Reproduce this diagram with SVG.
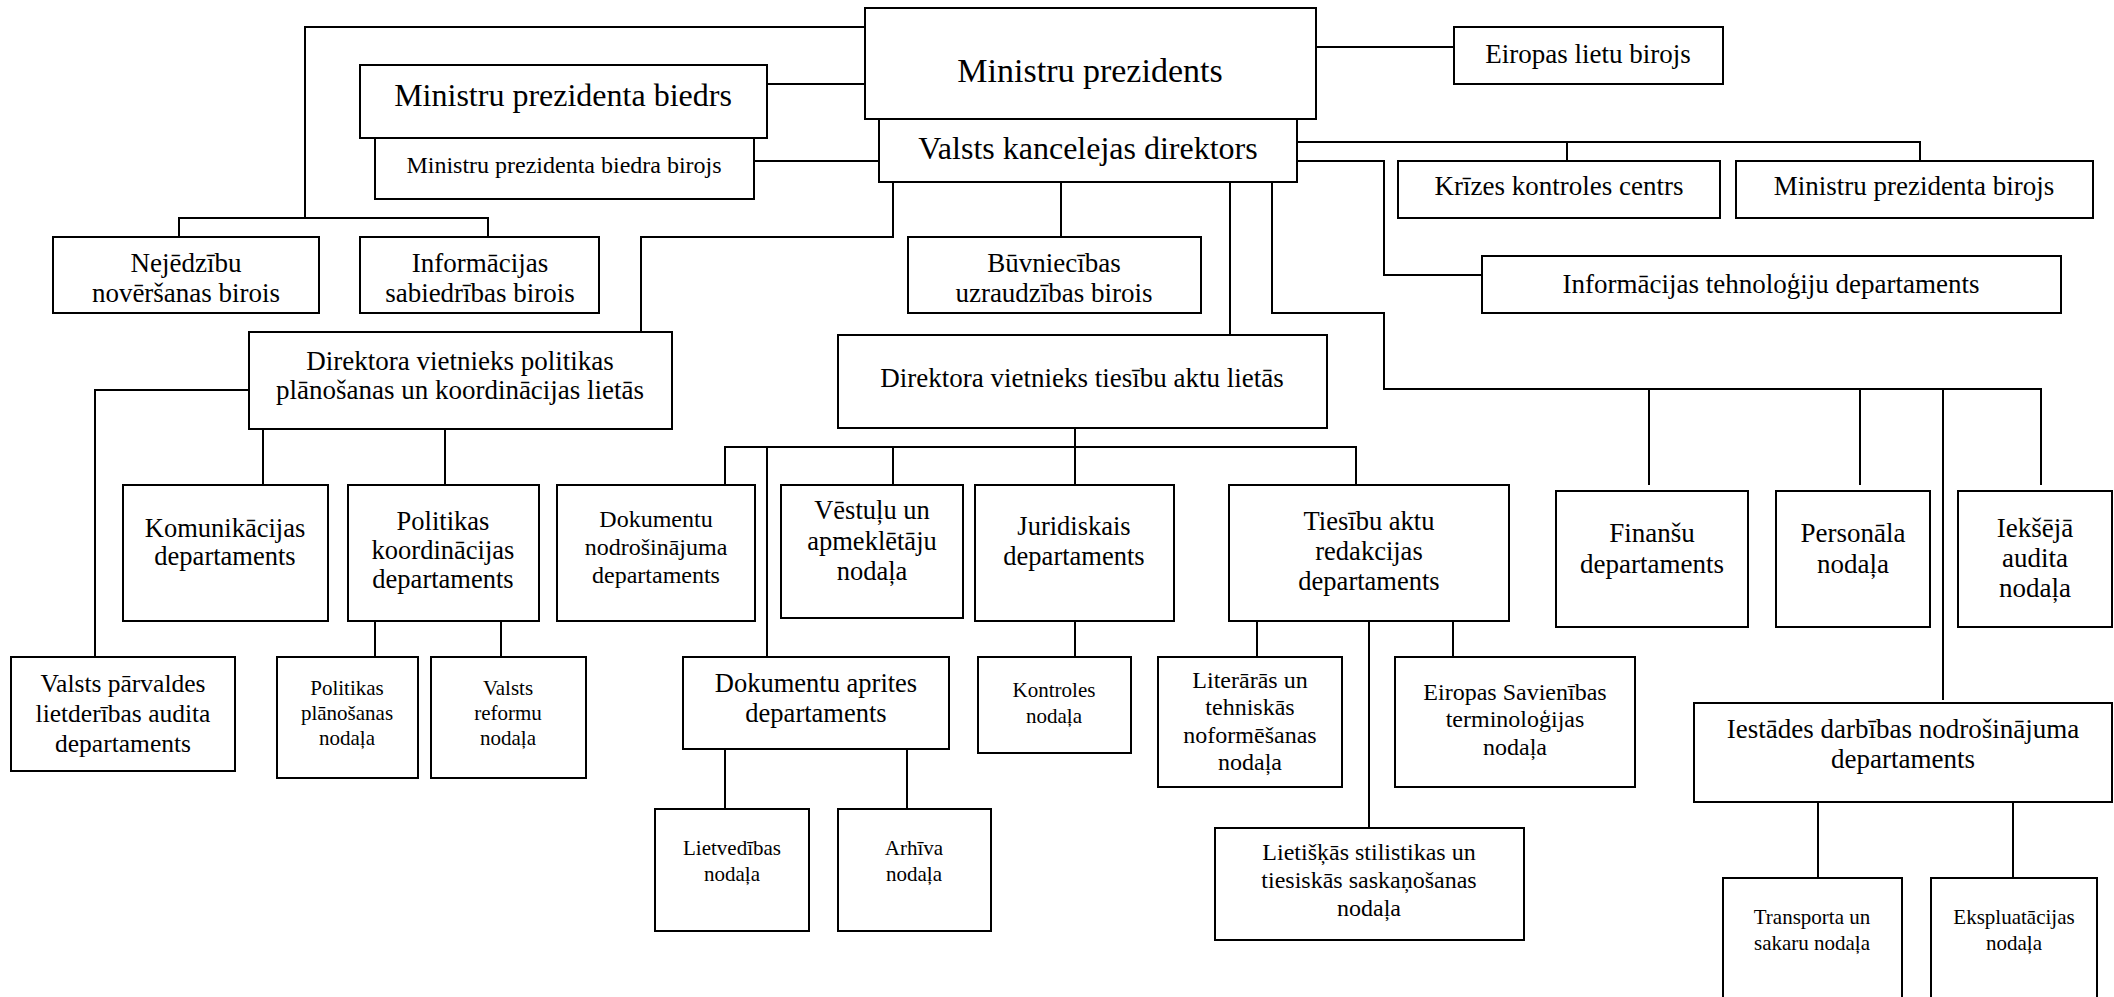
<svg xmlns="http://www.w3.org/2000/svg" width="2114" height="997" viewBox="0 0 2114 997">
<style>
.box{fill:#fff;stroke:#000;stroke-width:2}
.t{font-family:"Liberation Serif","Times New Roman",serif;text-anchor:middle;fill:#000}
.conn{fill:none;stroke:#000;stroke-width:2}
.s34{font-size:34px}.s32{font-size:32px}.s27{font-size:27px}.s26{font-size:26.5px}.s25{font-size:25.5px}.s24{font-size:24px}.s21{font-size:21px}
</style>
<rect width="2114" height="997" fill="#fff"/>
<g id="connectors" class="conn">
<path d="M865 27H305V218M179 237V218H488V237"/>
<path d="M767 84H865"/>
<path d="M754 161H879"/>
<path d="M1316 47H1454"/>
<path d="M1297 142H1920V161M1567 142V161"/>
<path d="M1297 161H1384V275H1482"/>
<path d="M893 182V237H641V332"/>
<path d="M1061 182V237"/>
<path d="M1230 182V335"/>
<path d="M1272 182V313H1384V389H2041V485M1649 389V485M1860 389V485M1943 389V700"/>
<path d="M249 390H95V657"/>
<path d="M263 429V485M445 429V485"/>
<path d="M375 621V657M501 621V657"/>
<path d="M1075 428V447M725 485V447H1356V485M767 447V657M893 447V485M1075 447V485"/>
<path d="M1075 621V657"/>
<path d="M725 749V809M907 749V809"/>
<path d="M1257 621V657M1369 621V828M1453 621V657"/>
<path d="M1818 802V878M2013 802V878"/>
</g>
<g id="ministru-prezidents"><rect class="box" x="865" y="8" width="451" height="111"/><text class="t s34" x="1090" y="82">Ministru prezidents</text></g>
<g id="mp-biedrs"><rect class="box" x="360" y="65" width="407" height="73"/><text class="t s32" x="563" y="106">Ministru prezidenta biedrs</text></g>
<g id="mp-biedra-birojs"><rect class="box" x="375" y="138" width="379" height="61"/><text class="t s24" x="564" y="173">Ministru prezidenta biedra birojs</text></g>
<g id="vk-direktors"><rect class="box" x="879" y="119" width="418" height="63"/><text class="t s32" x="1088" y="159">Valsts kancelejas direktors</text></g>
<g id="eiropas-lietu-birojs"><rect class="box" x="1454" y="27" width="269" height="57"/><text class="t s27" x="1588" y="63">Eiropas lietu birojs</text></g>
<g id="krizes-centrs"><rect class="box" x="1398" y="161" width="322" height="57"/><text class="t s27" x="1559" y="195">Krīzes kontroles centrs</text></g>
<g id="mp-birojs"><rect class="box" x="1736" y="161" width="357" height="57"/><text class="t s27" x="1914" y="195">Ministru prezidenta birojs</text></g>
<g id="it-dep"><rect class="box" x="1482" y="256" width="579" height="57"/><text class="t s27" x="1771" y="293">Informācijas tehnoloģiju departaments</text></g>
<g id="nejedzibu"><rect class="box" x="53" y="237" width="266" height="76"/><text class="t s27" x="186" y="272">Nejēdzību</text><text class="t s27" x="186" y="302">novēršanas birois</text></g>
<g id="info-sabiedribas"><rect class="box" x="360" y="237" width="239" height="76"/><text class="t s27" x="480" y="272">Informācijas</text><text class="t s27" x="480" y="302">sabiedrības birois</text></g>
<g id="buvniecibas"><rect class="box" x="908" y="237" width="293" height="76"/><text class="t s27" x="1054" y="272">Būvniecības</text><text class="t s27" x="1054" y="302">uzraudzības birois</text></g>
<g id="dv-politikas"><rect class="box" x="249" y="332" width="423" height="97"/><text class="t s27" x="460" y="370">Direktora vietnieks politikas</text><text class="t s27" x="460" y="399">plānošanas un koordinācijas lietās</text></g>
<g id="dv-tiesibu"><rect class="box" x="838" y="335" width="489" height="93"/><text class="t s27" x="1082" y="387">Direktora vietnieks tiesību aktu lietās</text></g>
<g id="komunikacijas"><rect class="box" x="123" y="485" width="205" height="136"/><text class="t s26" x="225" y="537">Komunikācijas</text><text class="t s26" x="225" y="565">departaments</text></g>
<g id="politikas-koord"><rect class="box" x="348" y="485" width="191" height="136"/><text class="t s26" x="443" y="530">Politikas</text><text class="t s26" x="443" y="559">koordinācijas</text><text class="t s26" x="443" y="588">departaments</text></g>
<g id="dok-nodrosinajuma"><rect class="box" x="557" y="485" width="198" height="136"/><text class="t s24" x="656" y="527">Dokumentu</text><text class="t s24" x="656" y="555">nodrošinājuma</text><text class="t s24" x="656" y="583">departaments</text></g>
<g id="vestulu"><rect class="box" x="781" y="485" width="182" height="133"/><text class="t s26" x="872" y="519">Vēstuļu un</text><text class="t s26" x="872" y="550">apmeklētāju</text><text class="t s26" x="872" y="580">nodaļa</text></g>
<g id="juridiskais"><rect class="box" x="975" y="485" width="199" height="136"/><text class="t s26" x="1074" y="535">Juridiskais</text><text class="t s26" x="1074" y="565">departaments</text></g>
<g id="tiesibu-redakcijas"><rect class="box" x="1229" y="485" width="280" height="136"/><text class="t s26" x="1369" y="530">Tiesību aktu</text><text class="t s26" x="1369" y="560">redakcijas</text><text class="t s26" x="1369" y="590">departaments</text></g>
<g id="finansu"><rect class="box" x="1556" y="491" width="192" height="136"/><text class="t s27" x="1652" y="542">Finanšu</text><text class="t s27" x="1652" y="573">departaments</text></g>
<g id="personala"><rect class="box" x="1776" y="491" width="154" height="136"/><text class="t s27" x="1853" y="542">Personāla</text><text class="t s27" x="1853" y="573">nodaļa</text></g>
<g id="ieksejais-audits"><rect class="box" x="1958" y="491" width="154" height="136"/><text class="t s27" x="2035" y="537">Iekšējā</text><text class="t s27" x="2035" y="567">audita</text><text class="t s27" x="2035" y="597">nodaļa</text></g>
<g id="valsts-parvaldes"><rect class="box" x="11" y="657" width="224" height="114"/><text class="t s25" x="123" y="692">Valsts pārvaldes</text><text class="t s25" x="123" y="722">lietderības audita</text><text class="t s25" x="123" y="752">departaments</text></g>
<g id="politikas-planosanas"><rect class="box" x="277" y="657" width="141" height="121"/><text class="t s21" x="347" y="695">Politikas</text><text class="t s21" x="347" y="720">plānošanas</text><text class="t s21" x="347" y="745">nodaļa</text></g>
<g id="valsts-reformu"><rect class="box" x="431" y="657" width="155" height="121"/><text class="t s21" x="508" y="695">Valsts</text><text class="t s21" x="508" y="720">reformu</text><text class="t s21" x="508" y="745">nodaļa</text></g>
<g id="dok-aprites"><rect class="box" x="683" y="657" width="266" height="92"/><text class="t s26" x="816" y="692">Dokumentu aprites</text><text class="t s26" x="816" y="722">departaments</text></g>
<g id="kontroles"><rect class="box" x="978" y="657" width="153" height="96"/><text class="t s21" x="1054" y="697">Kontroles</text><text class="t s21" x="1054" y="723">nodaļa</text></g>
<g id="lietvedibas"><rect class="box" x="655" y="809" width="154" height="122"/><text class="t s21" x="732" y="855">Lietvedības</text><text class="t s21" x="732" y="881">nodaļa</text></g>
<g id="arhiva"><rect class="box" x="838" y="809" width="153" height="122"/><text class="t s21" x="914" y="855">Arhīva</text><text class="t s21" x="914" y="881">nodaļa</text></g>
<g id="literaras"><rect class="box" x="1158" y="657" width="184" height="130"/><text class="t s24" x="1250" y="688">Literārās un</text><text class="t s24" x="1250" y="715">tehniskās</text><text class="t s24" x="1250" y="743">noformēšanas</text><text class="t s24" x="1250" y="770">nodaļa</text></g>
<g id="es-terminologijas"><rect class="box" x="1395" y="657" width="240" height="130"/><text class="t s24" x="1515" y="700">Eiropas Savienības</text><text class="t s24" x="1515" y="727">terminoloģijas</text><text class="t s24" x="1515" y="755">nodaļa</text></g>
<g id="lietiskas"><rect class="box" x="1215" y="828" width="309" height="112"/><text class="t s24" x="1369" y="860">Lietišķās stilistikas un</text><text class="t s24" x="1369" y="888">tiesiskās saskaņošanas</text><text class="t s24" x="1369" y="916">nodaļa</text></g>
<g id="iestades"><rect class="box" x="1694" y="703" width="418" height="99"/><text class="t s27" x="1903" y="738">Iestādes darbības nodrošinājuma</text><text class="t s27" x="1903" y="768">departaments</text></g>
<g id="transporta"><rect class="box" x="1723" y="878" width="179" height="130"/><text class="t s21" x="1812" y="924">Transporta un</text><text class="t s21" x="1812" y="950">sakaru nodaļa</text></g>
<g id="ekspluatacijas"><rect class="box" x="1931" y="878" width="166" height="130"/><text class="t s21" x="2014" y="924">Ekspluatācijas</text><text class="t s21" x="2014" y="950">nodaļa</text></g>
</svg>
